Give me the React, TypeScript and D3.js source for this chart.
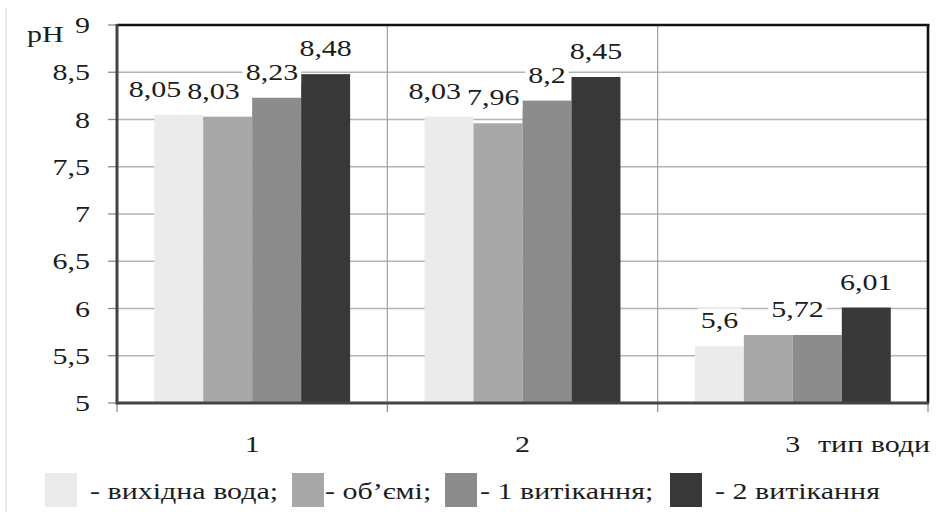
import React from "react";
import * as d3 from "d3";

const categories = ["1", "2", "3"];
const seriesNames = ["вихідна вода", "об’ємі", "1 витікання", "2 витікання"];
const legendLabels = ["- вихідна вода;", "- об’ємі;", "- 1 витікання;", "- 2 витікання"];
const initialWater = [8.05, 8.03, 5.6];
const volumeWater = [8.03, 7.96, 5.72];
const leaching1 = [8.23, 8.2, 5.72];
const leaching2 = [8.48, 8.45, 6.01];
const yTicks = [5, 5.5, 6, 6.5, 7, 7.5, 8, 8.5, 9];
const yTitle = "pH";
const xTitle = "тип води";

const seriesValues = [initialWater, volumeWater, leaching1, leaching2];
const colors = ["#ebebeb", "#a8a8a8", "#8c8c8c", "#383838"];

const W = 938;
const H = 512;
const L = 117, R = 928, T = 25, B = 403;
const FS = 24;
const SX = 1.25;
const FONT = "Liberation Serif, Tinos, DejaVu Serif, Times New Roman, serif";
const TXT = "#1c1c1c";
const GAP = 6;
const PAD = 3;

const fmt = (v: number) => String(v).replace(".", ",");
const estWidth = (s: string) => {
  let w = 0;
  for (const c of s) w += c === "," ? 0.25 : 0.5;
  return w * FS * SX;
};

function STxt({ x, y, anchor = "middle", children, baseline }: any) {
  return (
    <text
      transform={`translate(${x},${y}) scale(${SX},1)`}
      textAnchor={anchor}
      dominantBaseline={baseline}
      style={{ fontFamily: FONT, fontSize: FS }}
      fill={TXT}
    >
      {children}
    </text>
  );
}

export default function App() {
  const y = d3.scaleLinear().domain([5, 9]).range([B, T]);
  const x0 = d3.scaleBand<string>().domain(categories).range([L, R]).paddingInner(0).paddingOuter(0);
  const x1 = d3
    .scaleBand<number>()
    .domain(d3.range(seriesNames.length))
    .range([0, x0.bandwidth()])
    .paddingInner(0)
    .paddingOuter(0.76);

  type Lab = { x: number; y: number; text: string; w: number; show: boolean };
  const labels: Lab[] = [];
  categories.forEach((c, ci) => {
    const barLeft = (si: number) => (x0(c) as number) + (x1(si) as number);
    const group: Lab[] = seriesValues.map((vals, si) => {
      const v = vals[ci];
      const t = fmt(v);
      return {
        x: barLeft(si) + x1.bandwidth() / 2,
        y: y(v) - 18,
        text: t,
        w: estWidth(t),
        show: true,
      };
    });
    for (let i = group.length - 2; i >= 0; i--) {
      const a = group[i];
      const nextTop = y(seriesValues[i + 1][ci]);
      const nextLeft = barLeft(i + 1);
      if (a.y + 5 > nextTop && a.x + a.w / 2 + PAD > nextLeft) {
        a.x = nextLeft - PAD - a.w / 2;
      }
      let j = i + 1;
      while (j < group.length && !group[j].show) j++;
      if (j < group.length) {
        const b = group[j];
        const vOverlap = Math.abs(a.y - b.y) < 21;
        const hOverlap = a.x + a.w / 2 + GAP > b.x - b.w / 2;
        if (vOverlap && hOverlap) {
          if (a.text === b.text) {
            b.x = (a.x + b.x) / 2 + 7;
            a.show = false;
          } else {
            a.x = b.x - b.w / 2 - GAP - a.w / 2;
          }
        }
      }
      a.x = Math.max(a.x, (x0(c) as number) + 3 + PAD + a.w / 2);
    }
    group.forEach((g) => g.show && labels.push(g));
  });

  const boundaries = [L, ...categories.map((c) => (x0(c) as number) + x0.bandwidth())];
  const legendSwatchX = [45, 292, 445, 670];
  const legendTextX = [90, 325, 480, 715];

  return (
    <svg width={W} height={H} style={{ position: "absolute", left: 0, top: 0, background: "#fff" }}>
      <line x1={6} x2={6} y1={8} y2={H} stroke="#e2e2e2" strokeWidth={1.5} />
      {yTicks.slice(1, -1).map((t) => (
        <line key={t} x1={L} x2={R} y1={y(t)} y2={y(t)} stroke="#b4b4b4" strokeWidth={1.5} />
      ))}
      {boundaries.slice(1, -1).map((bx, i) => (
        <line key={i} x1={bx} x2={bx} y1={T} y2={B} stroke="#a0a0a0" strokeWidth={1.2} />
      ))}
      {categories.map((c, ci) =>
        seriesValues.map((vals, si) => (
          <rect
            key={`${ci}-${si}`}
            x={(x0(c) as number) + (x1(si) as number)}
            y={y(vals[ci])}
            width={x1.bandwidth()}
            height={B - y(vals[ci])}
            fill={colors[si]}
          />
        ))
      )}
      {labels.map((lb, i) => (
        <g key={i}>
          <rect x={lb.x - lb.w / 2 - PAD} y={lb.y - 20} width={lb.w + 2 * PAD} height={25} fill="#fff" />
          <STxt x={lb.x} y={lb.y}>
            {lb.text}
          </STxt>
        </g>
      ))}
      {yTicks.map((t) => (
        <g key={t}>
          <line x1={108} x2={L} y1={y(t)} y2={y(t)} stroke="#8a8a8a" strokeWidth={1.3} />
          <STxt x={90} y={y(t) + 8} anchor="end">
            {fmt(t)}
          </STxt>
        </g>
      ))}
      {boundaries.map((bx, i) => (
        <line key={i} x1={bx} x2={bx} y1={B} y2={B + 9} stroke="#8a8a8a" strokeWidth={1.2} />
      ))}
      <line x1={L} x2={R + 1.5} y1={T} y2={T} stroke="#111" strokeWidth={2.6} />
      <line x1={R} x2={R} y1={T} y2={B} stroke="#111" strokeWidth={2.6} />
      <line x1={L} x2={L} y1={T - 1} y2={B + 1.5} stroke="#444" strokeWidth={3} />
      <line x1={L} x2={R + 1} y1={B} y2={B} stroke="#444" strokeWidth={3} />
      <STxt x={27} y={42} anchor="start">
        {yTitle}
      </STxt>
      {categories.map((c) => (
        <STxt key={c} x={(x0(c) as number) + x0.bandwidth() / 2} y={452}>
          {c}
        </STxt>
      ))}
      <STxt x={818} y={452} anchor="start">
        {xTitle}
      </STxt>
      {seriesNames.map((s, i) => (
        <g key={s}>
          <rect x={legendSwatchX[i]} y={473} width={32} height={34} fill={colors[i]} />
          <STxt x={legendTextX[i]} y={499} anchor="start">
            {legendLabels[i]}
          </STxt>
        </g>
      ))}
    </svg>
  );
}
